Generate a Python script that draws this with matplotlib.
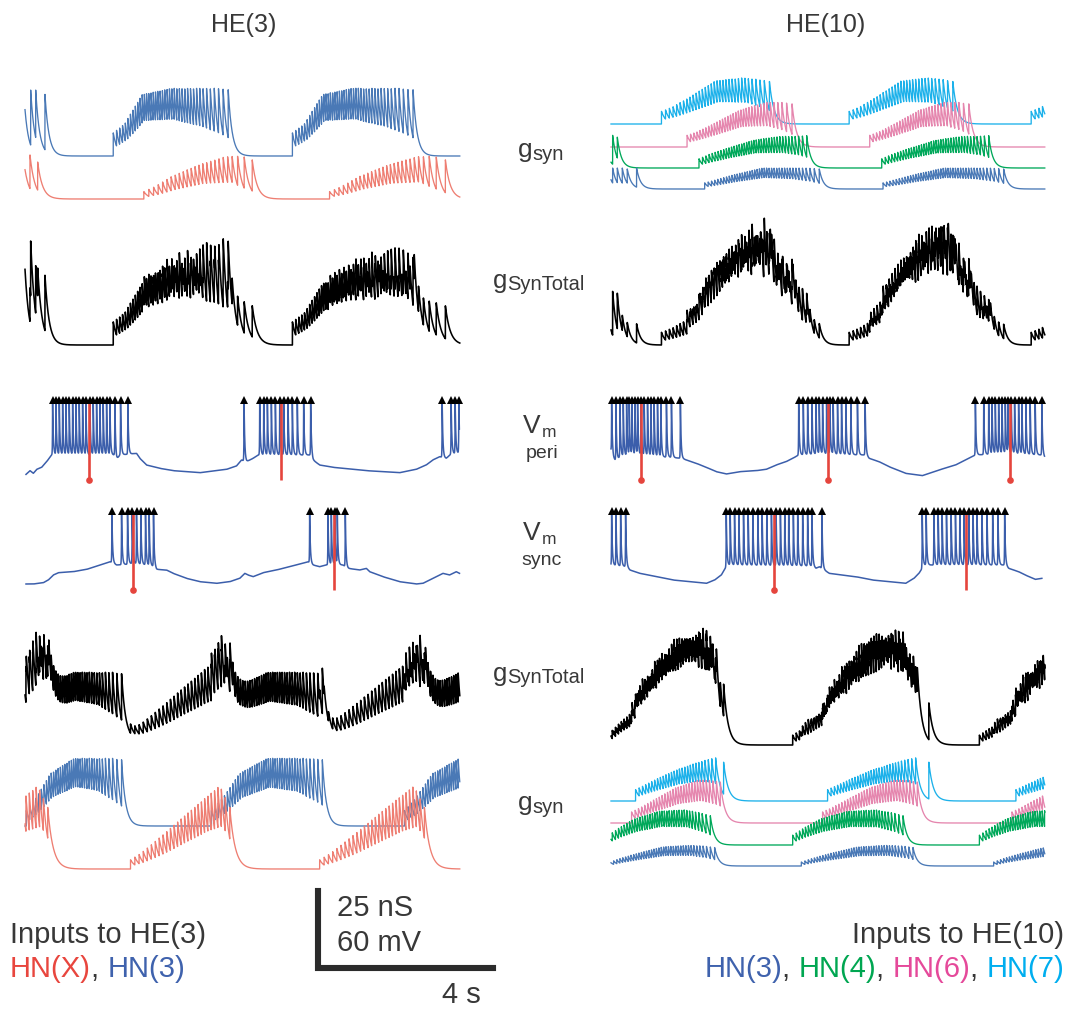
import numpy as np
import matplotlib
matplotlib.use("Agg")
import matplotlib.pyplot as plt

# ---------------------------------------------------------------- data
# burst-phase grid on which ISI (s) and peak conductance (nS) profiles are given
PHASE = [0.0, 0.1, 0.25, 0.5, 0.75, 0.9, 1.0]

# ---- HE(3), top g_syn row
L1_HN3_ON = [2.02, 6.12]
L1_HN3_OFF = [4.65, 8.88]
L1_HN3_ISI = [0.075, 0.06, 0.05, 0.055, 0.075, 0.10, 0.13]
L1_HN3_PEAK = [7.5, 10.5, 20.0, 22.0, 22.0, 22.0, 21.5]
L1_HN3_EXTRA_T = [-0.03, 0.13, 0.245, 0.457]
L1_HN3_EXTRA_A = [21.0, 21.4, 21.4, 20.0]
L1_HN3_TAU = 0.09
L1_HNX_ON = [2.72, 6.97]
L1_HNX_OFF = [5.20, 9.62]
L1_HNX_ISI = [0.11, 0.10, 0.09, 0.085, 0.10, 0.18, 0.30]
L1_HNX_PEAK = [2.4, 4.0, 7.2, 11.0, 13.7, 14.0, 12.7]
L1_HNX_EXTRA_T = [-0.03, 0.114, 0.29]
L1_HNX_EXTRA_A = [12.5, 14.3, 12.0]
L1_HNX_TAU = 0.11

# ---- HE(10), top g_syn row
R1_HN7_ON = [1.158, 5.463, 9.638]
R1_HN7_OFF = [3.634, 7.84, 12.0]
R1_HN7_ISI = [0.09, 0.08, 0.07, 0.065, 0.075, 0.10, 0.15]
R1_HN7_PEAK = [4.1, 5.5, 8.5, 14.0, 15.0, 14.5, 13.8]
R1_HN7_TAU = 0.10
R1_HN6_ON = [1.745, 5.935]
R1_HN6_OFF = [4.152, 8.206]
R1_HN6_ISI = [0.08, 0.07, 0.065, 0.06, 0.075, 0.10, 0.14]
R1_HN6_PEAK = [3.8, 5.0, 7.5, 12.0, 14.5, 14.5, 14.0]
R1_HN6_TAU = 0.10
R1_HN4_ON = [2.019, 6.21]
R1_HN4_OFF = [4.488, 8.663]
R1_HN4_ISI = [0.08, 0.07, 0.06, 0.055, 0.065, 0.08, 0.11]
R1_HN4_PEAK = [3.0, 4.5, 6.3, 9.0, 10.3, 10.3, 10.5]
R1_HN4_EXTRA_T = [-0.15, 0.038, 0.145]
R1_HN4_EXTRA_A = [10.0, 10.6, 10.0]
R1_HN4_TAU = 0.09
R1_HN3_ON = [2.149, 6.24]
R1_HN3_OFF = [4.777, 9.006]
R1_HN3_ISI = [0.08, 0.07, 0.06, 0.055, 0.065, 0.09, 0.13]
R1_HN3_PEAK = [2.0, 3.0, 4.6, 6.8, 6.8, 6.8, 6.5]
R1_HN3_EXTRA_T = [-0.07, 0.038, 0.145, 0.259, 0.373, 0.587]
R1_HN3_EXTRA_A = [6.5, 6.8, 6.8, 6.8, 6.5, 6.8]
R1_HN3_TAU = 0.09

# ---- HE(3), bottom g_syn row
L6_HN3_ON = [0.03, 4.267, 8.686]
L6_HN3_OFF = [2.21, 6.804, 11.2]
L6_HN3_ISI = [0.08, 0.065, 0.055, 0.05, 0.06, 0.09, 0.12]
L6_HN3_PEAK = [5.0, 9.0, 17.0, 22.0, 22.0, 22.0, 21.5]
L6_HN3_TAU = 0.09
L6_HNX_ON = [-1.78, 2.415, 6.743]
L6_HNX_OFF = [0.52, 4.686, 9.14]
L6_HNX_ISI = [0.10, 0.095, 0.09, 0.08, 0.075, 0.08, 0.12]
L6_HNX_PEAK = [3.0, 5.0, 9.0, 16.0, 23.0, 27.0, 20.0]
L6_HNX_TAU = 0.12

# ---- HE(10), bottom g_syn row
R6_HN7_ON = [0.564, 4.968, 9.288]
R6_HN7_OFF = [2.40, 6.987, 11.3]
R6_HN7_ISI = [0.08, 0.07, 0.065, 0.06, 0.065, 0.08, 0.10]
R6_HN7_PEAK = [3.7, 5.0, 7.0, 10.0, 12.3, 13.5, 14.0]
R6_HN7_EXTRA_T = [2.583, 7.29]
R6_HN7_EXTRA_A = [12.6, 12.6]
R6_HN7_TAU = 0.10
R6_HN6_ON = [0.472, 4.853, 9.196]
R6_HN6_OFF = [2.507, 7.025, 11.3]
R6_HN6_ISI = [0.08, 0.07, 0.065, 0.06, 0.065, 0.08, 0.10]
R6_HN6_PEAK = [3.6, 5.0, 7.5, 11.5, 13.9, 13.9, 13.3]
R6_HN6_TAU = 0.10
R6_HN4_ON = [-0.05, 4.168, 8.45]
R6_HN4_OFF = [2.278, 6.697, 10.9]
R6_HN4_ISI = [0.08, 0.065, 0.06, 0.055, 0.06, 0.08, 0.11]
R6_HN4_PEAK = [3.2, 5.5, 8.5, 11.0, 11.4, 10.5, 9.5]
R6_HN4_TAU = 0.09
R6_HN3_ON = [-0.02, 4.366, 8.777]
R6_HN3_OFF = [2.377, 6.926, 11.2]
R6_HN3_ISI = [0.08, 0.065, 0.06, 0.055, 0.06, 0.08, 0.11]
R6_HN3_PEAK = [1.3, 2.5, 4.0, 6.2, 6.7, 6.5, 6.0]
R6_HN3_TAU = 0.09

# ---- membrane potential traces (s, mV)
L_PERI_BT = [0.023, 0.114, 0.19, 0.267, 0.381, 0.495, 0.61, 2.057, 2.095, 2.171,
             2.552, 2.629, 2.781, 3.086, 3.39, 4.0, 4.61, 4.838, 4.952, 5.067,
             5.219, 5.333, 6.552, 6.59, 6.743, 7.048, 7.81, 8.57, 8.95, 9.18,
             9.33, 9.486, 9.64, 9.75, 9.94]
L_PERI_BV = [-65.1, -62.2, -64.3, -61.2, -59.6, -55.2, -50.0, -50.0, -53.9, -50.0,
             -48.7, -52.6, -57.8, -60.4, -62.2, -63.8, -61.2, -58.6, -53.9, -55.2,
             -52.6, -50.0, -50.0, -53.9, -57.8, -59.6, -62.2, -63.8, -61.2, -57.8,
             -53.9, -51.3, -52.6, -49.2, -48.7]
L_PERI_SPK = [0.632, 0.709, 0.785, 0.861, 0.937, 1.013, 1.09, 1.166, 1.242, 1.318,
              1.394, 1.486, 1.562, 1.638, 1.714, 1.79, 1.867, 1.943, 2.057, 2.187,
              2.354, 5.013, 5.371, 5.463, 5.547, 5.638, 5.73, 5.829, 5.92, 6.019,
              6.118, 6.232, 6.377, 6.537, 9.547, 9.752, 9.844, 9.928]
L_PERI_RED = [1.463, 5.851]
L_PERI_DOT = [True, False]

L_SYNC_BT = [0.023, 0.19, 0.419, 0.533, 0.648, 0.762, 1.105, 1.41, 1.714, 1.943,
             2.095, 2.324, 2.476, 2.781, 2.971, 3.01, 3.238, 3.39, 3.695, 4.0,
             4.381, 4.686, 4.914, 5.029, 5.105, 5.219, 5.448, 5.752, 6.057, 6.286,
             6.476, 6.59, 6.743, 6.895, 7.048, 7.276, 7.39, 7.657, 7.81, 7.886,
             8.19, 8.571, 8.952, 9.105, 9.333, 9.562, 9.714, 9.867, 9.943]
L_SYNC_BV = [-64.8, -64.8, -63.8, -61.7, -57.8, -56.0, -55.2, -53.4, -50.0, -47.4,
             -50.0, -49.5, -48.7, -50.0, -51.3, -53.4, -53.9, -56.5, -60.4, -63.0,
             -64.3, -63.0, -60.4, -56.5, -57.8, -59.1, -56.0, -53.9, -51.3, -49.2,
             -47.4, -50.0, -51.3, -50.0, -49.5, -50.0, -52.6, -53.9, -52.6, -55.2,
             -59.1, -63.0, -64.8, -64.3, -60.4, -56.5, -57.8, -55.2, -56.5]
L_SYNC_SPK = [1.989, 2.21, 2.347, 2.453, 2.552, 2.651, 2.758, 2.842, 2.941,
              6.514, 6.933, 7.01, 7.086, 7.147, 7.33]
L_SYNC_RED = [2.469, 7.07]
L_SYNC_DOT = [True, False]

R_PERI_BT = [0.0, 0.053, 0.13, 0.206, 0.663, 1.044, 1.349, 1.615, 1.73, 1.958,
             2.187, 2.415, 2.644, 2.949, 3.33, 3.558, 3.787, 4.015, 4.168, 4.305,
             4.853, 5.844, 5.92, 6.149, 6.377, 6.758, 7.139, 7.52, 7.901, 8.13,
             8.358, 9.044, 9.882, 9.943]
R_PERI_BV = [-46.1, -52.6, -55.2, -51.3, -50.0, -51.3, -51.8, -52.6, -53.9, -56.5,
             -59.6, -63.0, -64.8, -63.0, -62.2, -61.2, -57.8, -55.2, -52.6, -50.0,
             -49.2, -50.0, -52.6, -55.2, -59.1, -64.3, -66.1, -61.7, -57.8, -53.9,
             -50.0, -48.7, -50.0, -51.8]
R_PERI_SPK = [0.015, 0.114, 0.206, 0.282, 0.358, 0.419, 0.48, 0.549, 0.61, 0.686,
              0.762, 0.838, 0.914, 0.99, 1.067, 1.143, 1.272, 1.387, 1.592,
              4.305, 4.411, 4.51, 4.61, 4.701, 4.777, 4.853, 4.945, 5.021, 5.097,
              5.196, 5.288, 5.387, 5.501, 5.653, 5.829,
              8.358, 8.549, 8.663, 8.739, 8.815, 8.891, 8.968, 9.044, 9.105, 9.181,
              9.257, 9.349, 9.425, 9.516, 9.615, 9.73, 9.882]
R_PERI_RED = [0.678, 4.975, 9.143]
R_PERI_DOT = [True, True, True]

R_SYNC_BT = [0.0, 0.358, 0.434, 0.663, 1.044, 1.425, 1.806, 2.187, 2.377, 2.53,
             2.644, 2.72, 4.625, 4.701, 4.777, 4.891, 5.006, 5.615, 5.996, 6.377,
             6.758, 6.949, 7.063, 7.139, 7.215, 9.044, 9.12, 9.349, 9.501, 9.73,
             9.882]
R_SYNC_BV = [-50.0, -51.3, -53.9, -56.5, -59.1, -61.7, -63.0, -64.3, -61.7, -57.8,
             -51.3, -50.0, -50.8, -52.6, -51.3, -53.9, -56.5, -59.1, -61.7, -63.0,
             -64.3, -60.4, -56.5, -52.6, -50.0, -50.0, -52.6, -55.2, -57.8, -61.2,
             -60.4]
R_SYNC_SPK = [0.015, 0.114, 0.221, 0.335,
              2.644, 2.735, 2.834, 2.933, 3.04, 3.147, 3.253, 3.368, 3.467, 3.573,
              3.68, 3.787, 3.886, 3.985, 4.076, 4.183, 4.282, 4.396, 4.51, 4.61, 4.838,
              7.139, 7.23, 7.406, 7.505, 7.596, 7.695, 7.802, 7.901, 8.0, 8.099,
              8.206, 8.305, 8.396, 8.51, 8.625, 8.754, 8.876, 9.029]
R_SYNC_RED = [3.749, 8.152]
R_SYNC_DOT = [True, False]

PERI_TOP, PERI_TRI = -10.0, -7.3
SYNC_TOP, SYNC_TRI = -11.0, -7.7
RED_BOTTOM = -69.5

SCALE_T, SCALE_G = 4.0, 25.0   # 4 s, 25 nS (= 60 mV)

# ---------------------------------------------------------------- style
W, H, DPI = 1071, 1011, 100
FONT = ["Liberation Sans", "DejaVu Sans"]
C_HN3 = "#4a79b6"
C_HNX = "#ee7e72"
C_HN4 = "#00a85a"
C_HN6 = "#e586ae"
C_HN7 = "#1cb1ea"
C_VM = "#3b5eab"
C_RED = "#e5453d"
C_TXT = "#383838"
T_HNX, T_HN3, T_HN4, T_HN6, T_HN7 = "#e8463e", "#3f62ad", "#00a651", "#e5499a", "#00aeef"
PPU_G = 77 / 25.0     # px per nS
PPU_V = 77 / 60.0     # px per mV
PX_PER_S = 43.7
COLS = [(25, 462), (611, 1047)]

fig = plt.figure(figsize=(W / DPI, H / DPI), dpi=DPI)
fig.patch.set_facecolor("white")


def fx(x):
    return x / W


def fy(y):
    return 1 - y / H


def panel(col, ref_px, ppu, ref_val=0.0, up=200, down=40):
    x0, x1 = COLS[col]
    top, bot = ref_px - up, ref_px + down
    ax = fig.add_axes([fx(x0), fy(bot), (x1 - x0) / W, (bot - top) / H])
    ax.set_xlim(0, 10)
    ax.set_ylim(ref_val - down / ppu, ref_val + up / ppu)
    ax.set_axis_off()
    ax.patch.set_alpha(0)
    return ax


def burst_train(on, off, isi):
    ts = [on]
    end_isi = isi[-1]
    while True:
        ph = (ts[-1] - on) / (off - on)
        nxt = ts[-1] + np.interp(ph, PHASE, isi)
        if nxt > off + 0.5 * end_isi:
            break
        ts.append(nxt)
    ts = np.array(ts)
    ts = on + (ts - on) * (off - on) / (ts[-1] - on)
    return ts, (ts - on) / (off - on)


def gsyn(t, ons, offs, isi, peak, tau, extra_t=(), extra_a=()):
    S, A = [], []
    for on, off in zip(ons, offs):
        ts, ph = burst_train(on, off, isi)
        S.append(ts)
        A.append(np.interp(ph, PHASE, peak))
    S.append(np.asarray(extra_t, float))
    A.append(np.asarray(extra_a, float))
    S = np.concatenate(S)
    A = np.concatenate(A)
    o = np.argsort(S)
    S, A = S[o], A[o]
    idx = np.searchsorted(S, t, side="right") - 1
    ok = idx >= 0
    ic = np.clip(idx, 0, None)
    return np.where(ok, A[ic] * np.exp(-(t - S[ic]) / tau), 0.0)


def vm_trace(t, bt, bv, spikes, vtop):
    base = np.interp(t, bt, bv)
    v = base.copy()
    for s in spikes:
        b = np.interp(s, bt, bv)
        d = t - s
        k = np.exp(-np.abs(d) / np.where(d >= 0, 0.016, 0.004))
        v += (vtop - b) * k
    return v


def draw_vm(ax, bt, bv, spk, vtop, vtri, red_t, red_dot):
    inside = [s for s in spk if bt[0] <= s <= bt[-1]]
    tt = np.union1d(np.arange(bt[0], bt[-1], 0.0005), inside)
    v = vm_trace(tt, bt, bv, spk, vtop)
    ax.plot(tt, v, color=C_VM, lw=1.1, clip_on=False)
    for rt, dot in zip(red_t, red_dot):
        ax.plot([rt, rt], [RED_BOTTOM, vtri], color=C_RED, lw=1.9,
                solid_capstyle="butt", clip_on=False)
        if dot:
            ax.plot([rt], [RED_BOTTOM], "o", ms=4.8, color=C_RED, mew=0, clip_on=False)
    ax.plot(spk, [vtri] * len(spk), linestyle="none", marker="^", ms=5.5,
            color="black", mew=0, clip_on=False)


T = np.arange(0.0, 9.95, 0.001)
LW_G, LW_TOT = 0.95, 1.15

# ---- row 1 left
g_l1_hn3 = gsyn(T, L1_HN3_ON, L1_HN3_OFF, L1_HN3_ISI, L1_HN3_PEAK, L1_HN3_TAU,
                L1_HN3_EXTRA_T, L1_HN3_EXTRA_A)
g_l1_hnx = gsyn(T, L1_HNX_ON, L1_HNX_OFF, L1_HNX_ISI, L1_HNX_PEAK, L1_HNX_TAU,
                L1_HNX_EXTRA_T, L1_HNX_EXTRA_A)
ax = panel(0, 199, PPU_G)
ax.plot(T, g_l1_hn3 + (199 - 156) / PPU_G, color=C_HN3, lw=LW_G, clip_on=False)
ax.plot(T, g_l1_hnx, color=C_HNX, lw=LW_G, clip_on=False)
ax = panel(0, 345, PPU_G)
ax.plot(T, g_l1_hn3 + g_l1_hnx, color="black", lw=LW_TOT, clip_on=False)

# ---- row 1 right
g_r1_hn7 = gsyn(T, R1_HN7_ON, R1_HN7_OFF, R1_HN7_ISI, R1_HN7_PEAK, R1_HN7_TAU)
g_r1_hn6 = gsyn(T, R1_HN6_ON, R1_HN6_OFF, R1_HN6_ISI, R1_HN6_PEAK, R1_HN6_TAU)
g_r1_hn4 = gsyn(T, R1_HN4_ON, R1_HN4_OFF, R1_HN4_ISI, R1_HN4_PEAK, R1_HN4_TAU,
                R1_HN4_EXTRA_T, R1_HN4_EXTRA_A)
g_r1_hn3 = gsyn(T, R1_HN3_ON, R1_HN3_OFF, R1_HN3_ISI, R1_HN3_PEAK, R1_HN3_TAU,
                R1_HN3_EXTRA_T, R1_HN3_EXTRA_A)
ax = panel(1, 189, PPU_G)
ax.plot(T, g_r1_hn7 + (189 - 124) / PPU_G, color=C_HN7, lw=LW_G, clip_on=False)
ax.plot(T, g_r1_hn6 + (189 - 147) / PPU_G, color=C_HN6, lw=LW_G, clip_on=False)
ax.plot(T, g_r1_hn4 + (189 - 168) / PPU_G, color=C_HN4, lw=LW_G, clip_on=False)
ax.plot(T, g_r1_hn3, color=C_HN3, lw=LW_G, clip_on=False)
ax = panel(1, 345, PPU_G)
ax.plot(T, g_r1_hn7 + g_r1_hn6 + g_r1_hn4 + g_r1_hn3, color="black", lw=LW_TOT, clip_on=False)

# ---- Vm rows
ax = panel(0, 455, PPU_V, -50.0, up=70, down=30)
draw_vm(ax, L_PERI_BT, L_PERI_BV, L_PERI_SPK, PERI_TOP, PERI_TRI, L_PERI_RED, L_PERI_DOT)
ax = panel(1, 455, PPU_V, -50.0, up=70, down=30)
draw_vm(ax, R_PERI_BT, R_PERI_BV, R_PERI_SPK, PERI_TOP, PERI_TRI, R_PERI_RED, R_PERI_DOT)
ax = panel(0, 565, PPU_V, -50.0, up=70, down=30)
draw_vm(ax, L_SYNC_BT, L_SYNC_BV, L_SYNC_SPK, SYNC_TOP, SYNC_TRI, L_SYNC_RED, L_SYNC_DOT)
ax = panel(1, 565, PPU_V, -50.0, up=70, down=30)
draw_vm(ax, R_SYNC_BT, R_SYNC_BV, R_SYNC_SPK, SYNC_TOP, SYNC_TRI, R_SYNC_RED, R_SYNC_DOT)

# ---- row 6 left
g_l6_hn3 = gsyn(T, L6_HN3_ON, L6_HN3_OFF, L6_HN3_ISI, L6_HN3_PEAK, L6_HN3_TAU)
g_l6_hnx = gsyn(T, L6_HNX_ON, L6_HNX_OFF, L6_HNX_ISI, L6_HNX_PEAK, L6_HNX_TAU)
ax = panel(0, 869, PPU_G)
ax.plot(T, g_l6_hn3 + (869 - 826) / PPU_G, color=C_HN3, lw=LW_G, clip_on=False)
ax.plot(T, g_l6_hnx, color=C_HNX, lw=LW_G, clip_on=False)
ax = panel(0, 740, PPU_G)
ax.plot(T, g_l6_hn3 + g_l6_hnx, color="black", lw=LW_TOT, clip_on=False)

# ---- row 6 right
g_r6_hn7 = gsyn(T, R6_HN7_ON, R6_HN7_OFF, R6_HN7_ISI, R6_HN7_PEAK, R6_HN7_TAU,
                R6_HN7_EXTRA_T, R6_HN7_EXTRA_A)
g_r6_hn6 = gsyn(T, R6_HN6_ON, R6_HN6_OFF, R6_HN6_ISI, R6_HN6_PEAK, R6_HN6_TAU)
g_r6_hn4 = gsyn(T, R6_HN4_ON, R6_HN4_OFF, R6_HN4_ISI, R6_HN4_PEAK, R6_HN4_TAU)
g_r6_hn3 = gsyn(T, R6_HN3_ON, R6_HN3_OFF, R6_HN3_ISI, R6_HN3_PEAK, R6_HN3_TAU)
ax = panel(1, 866, PPU_G)
ax.plot(T, g_r6_hn7 + (866 - 801) / PPU_G, color=C_HN7, lw=LW_G, clip_on=False)
ax.plot(T, g_r6_hn6 + (866 - 823) / PPU_G, color=C_HN6, lw=LW_G, clip_on=False)
ax.plot(T, g_r6_hn4 + (866 - 845) / PPU_G, color=C_HN4, lw=LW_G, clip_on=False)
ax.plot(T, g_r6_hn3, color=C_HN3, lw=LW_G, clip_on=False)
ax = panel(1, 745, PPU_G)
ax.plot(T, g_r6_hn7 + g_r6_hn6 + g_r6_hn4 + g_r6_hn3, color="black", lw=LW_TOT, clip_on=False)

# ---- scale bar (4 s, 25 nS / 60 mV)
sx0, sy0 = 318, 968
ax = fig.add_axes([fx(sx0), fy(sy0), SCALE_T * PX_PER_S / W, SCALE_G * PPU_G / H])
ax.set_xlim(0, SCALE_T)
ax.set_ylim(0, SCALE_G)
ax.set_axis_off()
ax.plot([0, 0, SCALE_T], [SCALE_G, 0, 0], color="#2b2b2b", lw=4.4,
        solid_joinstyle="miter", solid_capstyle="projecting", clip_on=False)


# ---------------------------------------------------------------- text
def txt(x, y, s, size, color=C_TXT, ha="left", va="baseline"):
    fig.text(fx(x), fy(y), s, fontsize=size, color=color, ha=ha, va=va, family=FONT)


renderer = fig.canvas.get_renderer()


def width_of(s, size):
    a = fig.text(0, 0, "x" + s + "x", fontsize=size, family=FONT)
    b = fig.text(0, 0, "xx", fontsize=size, family=FONT)
    w = a.get_window_extent(renderer).width - b.get_window_extent(renderer).width
    a.remove()
    b.remove()
    return w


def rich(x, y, pieces, colors, size, align="left"):
    ws = [width_of(s, size) for s in pieces]
    cx = x if align == "left" else x - sum(ws)
    for s, c, w in zip(pieces, colors, ws):
        fig.text(fx(cx), fy(y), s, fontsize=size, color=c, family=FONT,
                 ha="left", va="baseline")
        cx += w


txt(244, 25, "HE(3)", 18, ha="center", va="center")
txt(826, 25, "HE(10)", 18, ha="center", va="center")

# middle row labels
txt(518, 157, "g", 19)
txt(532, 160, "syn", 14.5)
txt(493, 288, "g", 18.5)
txt(507, 290, "SynTotal", 14.5)
txt(523, 433, "V", 19)
txt(542, 437, "m", 12.5)
txt(542, 458, "peri", 14, ha="center")
txt(523, 540, "V", 19)
txt(542, 544, "m", 12.5)
txt(542, 565, "sync", 14, ha="center")
txt(493, 681, "g", 18.5)
txt(507, 683, "SynTotal", 14.5)
txt(518, 810, "g", 19)
txt(532, 813, "syn", 14.5)

# scale labels
txt(337, 916, "25 nS", 21)
txt(337, 951, "60 mV", 21)
txt(442, 1003, "4 s", 21)

# input legends
txt(10, 943, "Inputs to HE(3)", 21)
rich(10, 977, ["HN(X)", ", ", "HN(3)"], [T_HNX, C_TXT, T_HN3], 21)
txt(1064, 943, "Inputs to HE(10)", 21, ha="right")
rich(1064, 977, ["HN(3)", ", ", "HN(4)", ", ", "HN(6)", ", ", "HN(7)"],
     [T_HN3, C_TXT, T_HN4, C_TXT, T_HN6, C_TXT, T_HN7], 21, align="right")

fig.savefig("out.png", dpi=DPI, facecolor="white")
